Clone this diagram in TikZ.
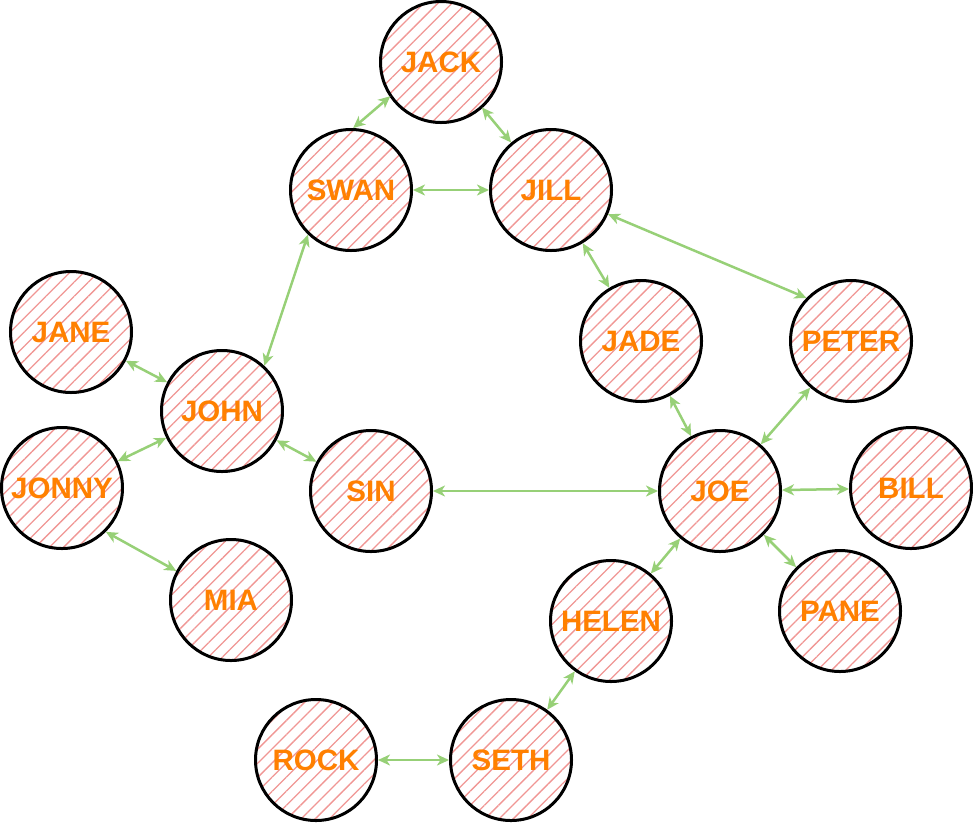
\documentclass[tikz,border=0pt]{standalone}
\usepackage{fontspec}
\setmainfont{Liberation Sans}
\usetikzlibrary{patterns.meta,arrows.meta}
\definecolor{hatch}{RGB}{240,150,148}
\definecolor{lbl}{RGB}{255,128,0}
\definecolor{edgegreen}{RGB}{151,208,119}
\begin{document}
\begin{tikzpicture}[x=1pt,y=-1pt,
  person/.style={circle, draw=black, line width=3pt, minimum size=121pt, inner sep=0pt,
    pattern={Lines[angle=45,distance=10pt,line width=1.3pt]}, pattern color=hatch,
    font=\fontsize{29.5}{30}\selectfont\bfseries, text=lbl},
  link/.style={draw=edgegreen, line width=2.5pt,
    {Stealth[length=12pt,width=11pt,inset=3.5pt]}-{Stealth[length=12pt,width=11pt,inset=3.5pt]}}]
\useasboundingbox (0,0) rectangle (973,823);
\node[person] (jack)  at (441,62)  {JACK};
\node[person] (swan)  at (351,190) {SWAN};
\node[person] (jill)  at (551,190) {JILL};
\node[person] (jane)  at (71,332)  {JANE};
\node[person] (john)  at (222,411) {JOHN};
\node[person] (jonny) at (62,488)  {JONNY};
\node[person] (sin)   at (371,491) {SIN};
\node[person] (mia)   at (231,600) {MIA};
\node[person] (jade)  at (641,341) {JADE};
\node[person] (peter) at (851,341) {PETER};
\node[person] (joe)   at (720,491) {JOE};
\node[person] (bill)  at (911,488) {BILL};
\node[person] (helen) at (611,621) {HELEN};
\node[person] (pane)  at (840,611) {PANE};
\node[person] (rock)  at (316,760) {ROCK};
\node[person] (seth)  at (511,760) {SETH};
\draw[link] (swan.88) -- (jack.214);
\draw[link] (jack.312) -- (jill.130);
\draw[link] (swan) -- (jill);
\draw[link] (jill.337) -- (peter.136);
\draw[link] (jill) -- (jade);
\draw[link] (swan.226) -- (john.47);
\draw[link] (jane) -- (john);
\draw[link] (john) -- (jonny);
\draw[link] (john) -- (sin);
\draw[link] (jonny.315) -- (mia.152);
\draw[link] (sin) -- (joe);
\draw[link] (jade) -- (joe);
\draw[link] (peter) -- (joe);
\draw[link] (joe) -- (bill);
\draw[link] (joe) -- (pane);
\draw[link] (joe) -- (helen);
\draw[link] (helen) -- (seth);
\draw[link] (rock) -- (seth);
\end{tikzpicture}
\end{document}
